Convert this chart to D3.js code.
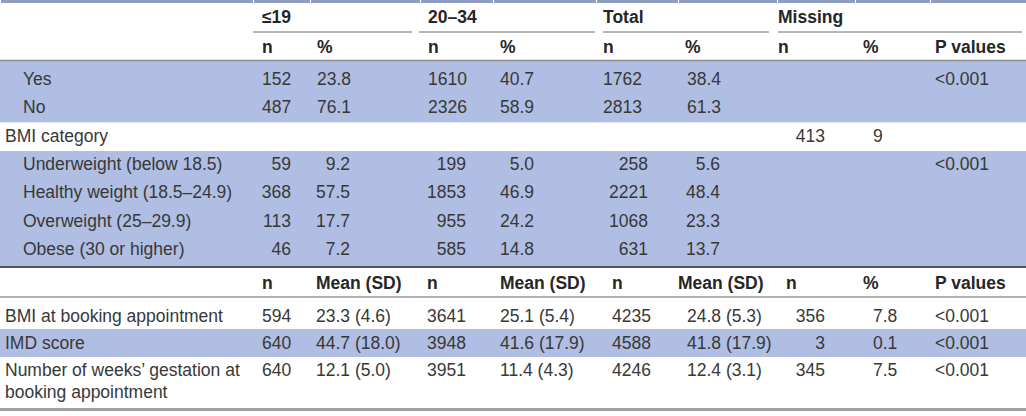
<html lang="en">
<head>
<meta charset="utf-8">
<title>Age group table</title>
<style>
    body {
        margin: 0;
        background-color: white;
    }
    svg {
        display: block;
        background-color: white;
        font-family: "Liberation Sans", Arial, Helvetica, sans-serif;
    }
    .cell {
        font-size: 17.5px;
        fill: #383838;
    }
    .head {
        font-size: 17.5px;
        font-weight: bold;
        fill: #262626;
    }
</style>
</head>
<body>
<script src="https://cdnjs.cloudflare.com/ajax/libs/d3/7.8.5/d3.min.js"></script>
<script>
    var groups = ["≤19", "20–34", "Total", "Missing"];
    var subHeads = ["n", "%", "n", "%", "n", "%", "n", "%", "P values"];

    var catLabels = ["Yes", "No", "BMI category", "Underweight (below 18.5)",
        "Healthy weight (18.5–24.9)", "Overweight (25–29.9)", "Obese (30 or higher)"];
    var catIndented = [true, true, false, true, true, true, true];
    var u19N = ["152", "487", "", "59", "368", "113", "46"];
    var u19Pct = ["23.8", "76.1", "", "9.2", "57.5", "17.7", "7.2"];
    var a2034N = ["1610", "2326", "", "199", "1853", "955", "585"];
    var a2034Pct = ["40.7", "58.9", "", "5.0", "46.9", "24.2", "14.8"];
    var totN = ["1762", "2813", "", "258", "2221", "1068", "631"];
    var totPct = ["38.4", "61.3", "", "5.6", "48.4", "23.3", "13.7"];
    var misN = ["", "", "413", "", "", "", ""];
    var misPct = ["", "", "9", "", "", "", ""];
    var pVals = ["<0.001", "", "", "<0.001", "", "", ""];

    var contHeads = ["n", "Mean (SD)", "n", "Mean (SD)", "n", "Mean (SD)", "n", "%", "P values"];
    var contLabels = ["BMI at booking appointment", "IMD score",
        "Number of weeks’ gestation at booking appointment"];
    var cU19N = ["594", "640", "640"];
    var cU19Mean = ["23.3 (4.6)", "44.7 (18.0)", "12.1 (5.0)"];
    var cA2034N = ["3641", "3948", "3951"];
    var cA2034Mean = ["25.1 (5.4)", "41.6 (17.9)", "11.4 (4.3)"];
    var cTotN = ["4235", "4588", "4246"];
    var cTotMean = ["24.8 (5.3)", "41.8 (17.9)", "12.4 (3.1)"];
    var cMisN = ["356", "3", "345"];
    var cMisPct = ["7.8", "0.1", "7.5"];
    var cP = ["<0.001", "<0.001", "<0.001"];

    // ---- layout ----
    var fullwidth = 1026;
    var fullheight = 416;
    var blue = "#afbee2";

    var svg = d3.select("body")
                .append("svg")
                .attr("width", fullwidth)
                .attr("height", fullheight);

    var colKeys = ["u19n", "u19p", "a2034n", "a2034p", "totn", "totp", "misn", "misp", "p"];

    // header text starts
    var xHead = d3.scaleOrdinal().domain(colKeys)
                  .range([262, 317, 428, 500, 603, 685, 778, 863, 935]);
    // right edges used by right aligned figures
    var xRight = d3.scaleOrdinal().domain(colKeys)
                   .range([291, 350, 466, 534, 648, 720, 825, 895, 990]);
    var xHeadCont = d3.scaleOrdinal().domain(colKeys)
                      .range([262, 316, 427, 500, 612, 678, 786, 863, 935]);

    var groupX = d3.scaleOrdinal().domain(groups).range([262, 428, 603, 778]);
    var groupRule = d3.scaleOrdinal().domain(groups)
                      .range([[253, 412], [419, 595], [603, 769], [778, 1022]]);

    var yTop = d3.scaleLinear().domain([0, catLabels.length - 1]).range([79, 249]);
    var yCont = d3.scaleLinear().domain([0, contLabels.length - 1]).range([316, 370]);

    // ---- shaded bands ----
    var bands = [
        [yTop(0) - 18, yTop(1) + 15],
        [yTop(3) - 13, yTop(6) + 17],
        [yCont(1) - 14, yCont(1) + 14]
    ];
    svg.selectAll("rect.band")
        .data(bands)
        .enter()
        .append("rect")
        .attr("class", "band")
        .attr("x", 0)
        .attr("width", fullwidth)
        .attr("y", function(d) { return d[0]; })
        .attr("height", function(d) { return d[1] - d[0]; })
        .attr("fill", blue);

    // ---- rules ----
    var cuts = [0, 253, 310, 420, 493, 596, 678, 777, 855, 930, fullwidth];
    svg.selectAll("line.topRule")
        .data(d3.pairs(cuts))
        .enter()
        .append("line")
        .attr("x1", function(d) { return d[0] + 1; })
        .attr("x2", function(d) { return d[1]; })
        .attr("y1", 1.5).attr("y2", 1.5)
        .attr("stroke", "#8e9cc0")
        .attr("stroke-width", 3);

    svg.selectAll("line.groupRule")
        .data(groups)
        .enter()
        .append("line")
        .attr("x1", function(d) { return groupRule(d)[0]; })
        .attr("x2", function(d) { return groupRule(d)[1]; })
        .attr("y1", 32).attr("y2", 32)
        .attr("stroke", "#6e6e6e")
        .attr("stroke-width", 1);

    function hrule(y, color, w) {
        svg.append("line")
            .attr("x1", 0).attr("x2", fullwidth)
            .attr("y1", y).attr("y2", y)
            .attr("stroke", color)
            .attr("stroke-width", w);
    }
    hrule(60.5, "#8f8f8f", 1.5);
    hrule(267, "#545454", 2);
    hrule(297, "#999", 1.5);
    hrule(409.5, "#a0a0a0", 3);

    // ---- header text ----
    svg.selectAll("text.group")
        .data(groups)
        .enter()
        .append("text")
        .attr("class", "head")
        .attr("x", function(d) { return groupX(d); })
        .attr("y", 17)
        .attr("dy", "0.35em")
        .text(function(d) { return d; });

    svg.selectAll("text.sub")
        .data(subHeads)
        .enter()
        .append("text")
        .attr("class", "head")
        .attr("x", function(d, i) { return xHead(colKeys[i]); })
        .attr("y", 47)
        .attr("dy", "0.35em")
        .text(function(d) { return d; });

    svg.selectAll("text.contHead")
        .data(contHeads)
        .enter()
        .append("text")
        .attr("class", "head")
        .attr("x", function(d, i) { return xHeadCont(colKeys[i]); })
        .attr("y", 283)
        .attr("dy", "0.35em")
        .text(function(d) { return d; });

    // ---- categorical rows ----
    svg.selectAll("text.catLabel")
        .data(catLabels)
        .enter()
        .append("text")
        .attr("class", "cell")
        .attr("x", function(d, i) { return catIndented[i] ? 23 : 5; })
        .attr("y", function(d, i) { return yTop(i); })
        .attr("dy", "0.35em")
        .text(function(d) { return d; });

    var topCols = [u19N, u19Pct, a2034N, a2034Pct, totN, totPct, misN, misPct, pVals];
    var topCells = [];
    topCols.forEach(function(col, c) {
        col.forEach(function(v, r) {
            if (v !== "") topCells.push({ key: colKeys[c], row: r, value: v });
        });
    });

    svg.selectAll("text.topCell")
        .data(topCells)
        .enter()
        .append("text")
        .attr("class", "cell")
        .attr("x", function(d) {
            if (d.key === "p") return xHead(d.key);
            if (d.key === "misp") return 873;
            if (d.row < 2) return xHead(d.key) + (d.key === "totp" ? 2 : 0);
            return xRight(d.key);
        })
        .attr("text-anchor", function(d) {
            if (d.key === "p" || d.key === "misp" || d.row < 2) return "start";
            return "end";
        })
        .attr("y", function(d) { return yTop(d.row); })
        .attr("dy", "0.35em")
        .text(function(d) { return d.value; });

    // ---- continuous rows ----
    var labels = svg.selectAll("text.contLabel")
        .data(contLabels)
        .enter()
        .append("text")
        .attr("class", "cell")
        .attr("x", 5)
        .attr("y", function(d, i) { return yCont(i); })
        .attr("dy", "0.35em")
        .text(function(d) { return d; });

    // wrap long labels into the first column
    labels.each(function() {
        var text = d3.select(this);
        var words = text.text().split(" ");
        var x = text.attr("x");
        var y = text.attr("y");
        text.text(null);
        var line = [];
        var lineNo = 0;
        var tspan = text.append("tspan").attr("x", x).attr("y", y).attr("dy", "0.35em");
        words.forEach(function(w) {
            line.push(w);
            tspan.text(line.join(" "));
            if (tspan.node().getComputedTextLength() > 250 && line.length > 1) {
                line.pop();
                tspan.text(line.join(" "));
                line = [w];
                lineNo++;
                tspan = text.append("tspan")
                    .attr("x", x)
                    .attr("y", +y + lineNo * 22)
                    .attr("dy", "0.35em")
                    .text(w);
            }
        });
    });

    var contCols = [cU19N, cU19Mean, cA2034N, cA2034Mean, cTotN, cTotMean, cMisN, cMisPct, cP];
    var contLeft = d3.scaleOrdinal().domain(colKeys)
                     .range([262, 316, 427, 500, 612, 687, 0, 873, 935]);
    var contCells = [];
    contCols.forEach(function(col, c) {
        col.forEach(function(v, r) {
            contCells.push({ key: colKeys[c], row: r, value: v });
        });
    });

    svg.selectAll("text.contCell")
        .data(contCells)
        .enter()
        .append("text")
        .attr("class", "cell")
        .attr("x", function(d) {
            return d.key === "misn" ? xRight(d.key) : contLeft(d.key);
        })
        .attr("text-anchor", function(d) { return d.key === "misn" ? "end" : "start"; })
        .attr("y", function(d) { return yCont(d.row); })
        .attr("dy", "0.35em")
        .text(function(d) { return d.value; });
</script>
</body>
</html>
